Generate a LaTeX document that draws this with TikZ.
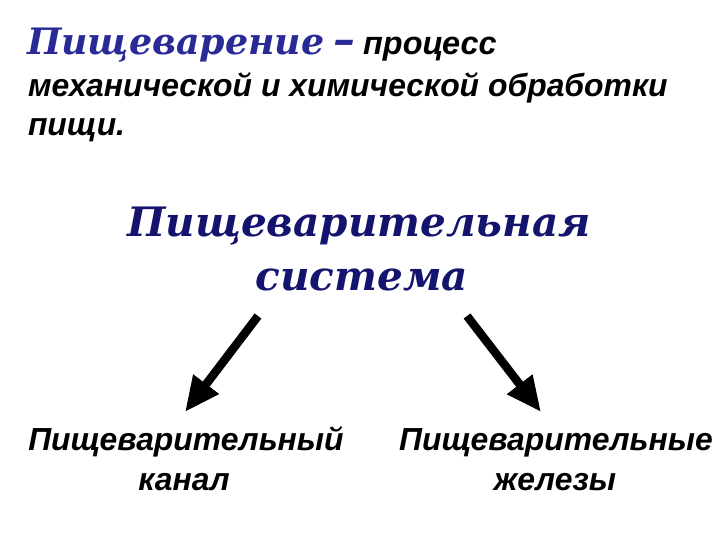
\documentclass[tikz,border=0pt]{standalone}
\usepackage{fontspec}
\setmainfont{Liberation Serif}
\newfontfamily\sansf{Liberation Sans}
\newfontfamily\bigserif{DejaVu Serif}
\usetikzlibrary{arrows.meta}
\definecolor{ttlblue}{RGB}{42,42,150}
\definecolor{navy}{RGB}{20,20,110}
\begin{document}
\begin{tikzpicture}[x=1bp,y=-1bp,
  txt/.style={inner sep=0pt,outer sep=0pt},
  sanstxt/.style={txt,font=\sansf\bfseries\itshape\fontsize{32}{36}\selectfont},
  bigtxt/.style={txt,font=\bigserif\bfseries\itshape\fontsize{40.7}{46}\selectfont,text=navy},
  arr/.style={line width=8.5bp,-{Triangle[length=35bp,width=30bp]}}]
\useasboundingbox[fill=white] (0,0) rectangle (720,540);
\node[txt,anchor=base west] (t1) at (27,55)
  {{\bigserif\bfseries\itshape\color{ttlblue}\fontsize{36.5}{40}\selectfont Пищеварение\hspace{9bp}{\fontsize{44}{40}\selectfont –}}\hspace{8bp}{\sansf\bfseries\itshape\fontsize{32.5}{36}\selectfont процесс}};
\node[sanstxt,anchor=base west] (t2) at (28,97) {механической и химической обработки};
\node[sanstxt,anchor=base west] (t3) at (28,136) {пищи.};
\node[bigtxt,anchor=base] (s1) at (359,237) {Пищеварительная};
\node[bigtxt,anchor=base] (s2) at (362,290) {система};
\coordinate (a1s) at (258,316);
\coordinate (a1e) at (185,412);
\coordinate (a2s) at (467,316);
\coordinate (a2e) at (541,412);
\draw[arr] (a1s) -- (a1e);
\draw[arr] (a2s) -- (a2e);
\node[sanstxt,anchor=base] (l1) at (186,450) {Пищеварительный};
\node[sanstxt,anchor=base] (l2) at (184,490) {канал};
\node[sanstxt,anchor=base] (r1) at (556,450) {Пищеварительные};
\node[sanstxt,anchor=base] (r2) at (555,490) {железы};
\end{tikzpicture}
\end{document}
